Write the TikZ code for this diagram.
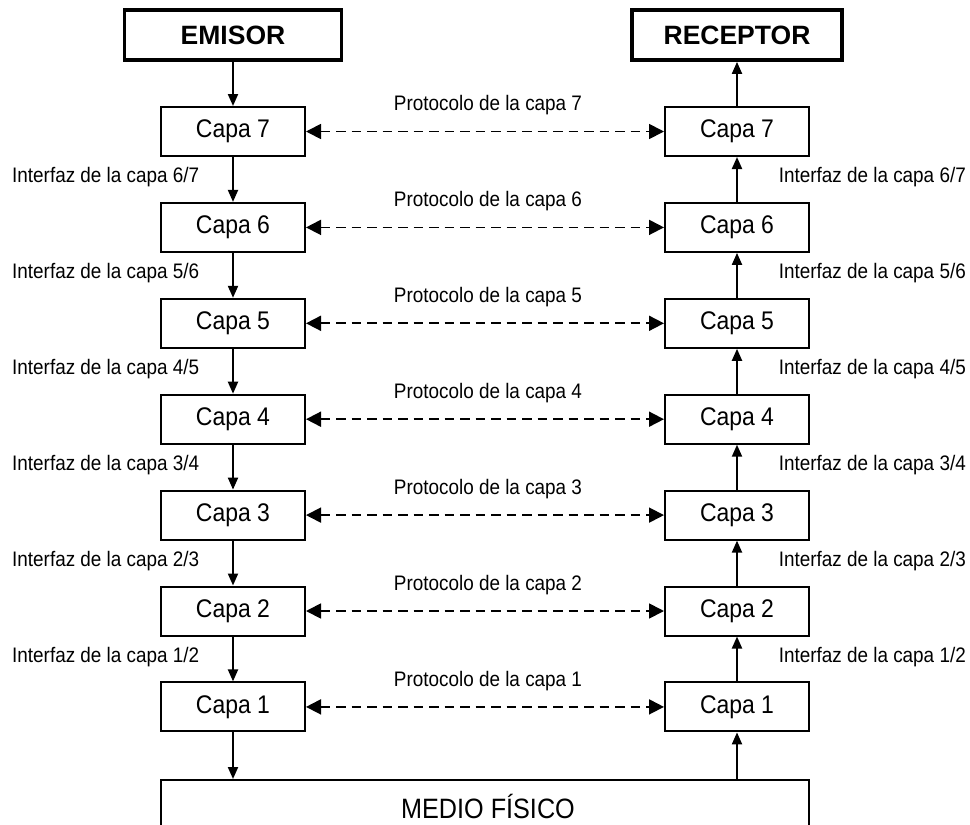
\documentclass[tikz,border=0pt]{standalone}
\usepackage{fontspec}
\setmainfont{Liberation Sans}
\newfontfamily\narrowsans{Liberation Sans}[FakeStretch=0.9]
\usetikzlibrary{arrows.meta}
\begin{document}
\begin{tikzpicture}[x=1pt,y=-1pt,
  layer/.style={draw,line width=2pt,minimum width=144pt,minimum height=49pt,inner sep=0pt,
    font=\narrowsans\fontsize{25.5}{30}\selectfont},
  endpoint/.style={draw,line width=3.8pt,minimum height=50pt,inner sep=0pt,
    font=\bfseries\fontsize{26.5}{30}\selectfont},
  flow/.style={line width=2pt,-{Triangle[length=12pt,width=10pt]}},
  peer/.style={line width=1.8pt,dash pattern=on 9.5pt off 6pt,
    {Triangle[length=15pt,width=15pt]}-{Triangle[length=15pt,width=15pt]}},
  lbl/.style={inner sep=0pt,font=\narrowsans\fontsize{21}{24}\selectfont}]

\useasboundingbox (0,0) rectangle (970,825);

% sender and receiver
\node[endpoint,minimum width=217pt] (emisor) at (233,35) {EMISOR};
\node[endpoint,minimum width=210pt] (receptor) at (737,35) {RECEPTOR};

% the seven layers on both sides with their peer protocols
\foreach \k in {1,...,7} {
  \pgfmathsetmacro\yy{131.5+95.9*(7-\k)}
  \node[layer] (L\k) at (233,\yy) {Capa \k};
  \node[layer] (R\k) at (737,\yy) {Capa \k};
  \draw[peer] (L\k) -- (R\k);
  \node[lbl] (P\k) at (488,\yy-26) {Protocolo de la capa \k};
}

% interfaces between adjacent layers
\foreach \k [evaluate=\k as \n using int(\k+1)] in {1,...,6} {
  \pgfmathsetmacro\yy{131.5+95.9*(6.5-\k)-2}
  \node[lbl,anchor=west] (IL\k) at (12,\yy) {Interfaz de la capa \k/\n};
  \node[lbl,anchor=east] (IR\k) at (966,\yy) {Interfaz de la capa \k/\n};
  \draw[flow] (L\n) -- (L\k);
  \draw[flow] (R\k) -- (R\n);
}

% physical medium
\node[draw,line width=2pt,minimum width=648pt,minimum height=52pt,inner sep=0pt,
  font=\narrowsans\fontsize{28}{32}\selectfont] (medio) at (485,806)
  {\hspace*{6pt}MEDIO FÍSICO};

\draw[flow] (emisor) -- (L7);
\draw[flow] (R7) -- (receptor);
\draw[flow] (L1.south) -- (L1.south |- medio.north);
\draw[flow] (R1.south |- medio.north) -- (R1.south);
\end{tikzpicture}
\end{document}
